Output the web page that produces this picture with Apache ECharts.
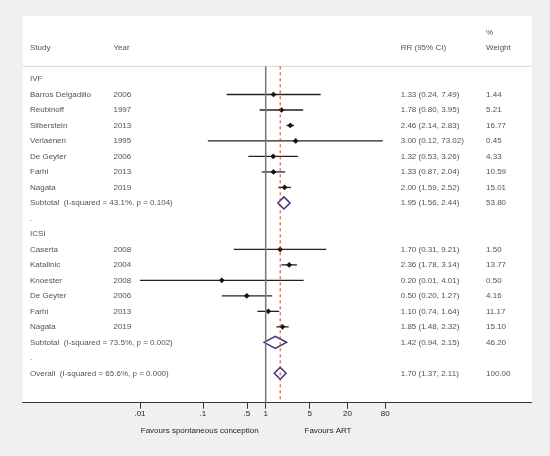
<!DOCTYPE html>
<html>
<head>
<meta charset="utf-8">
<script src="https://cdn.jsdelivr.net/npm/echarts@6/dist/echarts.min.js"></script>
<style>
html,body{margin:0;padding:0;background:#eef0f1;}
#c{width:550px;height:456px;}
</style>
</head>
<body>
<div id="c"></div>
<script>
// ---- Data ----
const ivfStudies = ['Barros Delgadillo','Reubinoff','Silberstein','Verlaenen','De Geyter','Farhi','Nagata'];
const ivfYears   = ['2006','1997','2013','1995','2006','2013','2019'];
const ivfRR      = [1.33, 1.78, 2.46, 3.00, 1.32, 1.33, 2.00];
const ivfLow     = [0.24, 0.80, 2.14, 0.12, 0.53, 0.87, 1.59];
const ivfHigh    = [7.49, 3.95, 2.83, 73.02, 3.26, 2.04, 2.52];
const ivfWeight  = [1.44, 5.21, 16.77, 0.45, 4.33, 10.59, 15.01];

const icsiStudies = ['Caserta','Katalinic','Knoester','De Geyter','Farhi','Nagata'];
const icsiYears   = ['2008','2004','2008','2006','2013','2019'];
const icsiRR      = [1.70, 2.36, 0.20, 0.50, 1.10, 1.85];
const icsiLow     = [0.31, 1.78, 0.01, 0.20, 0.74, 1.48];
const icsiHigh    = [9.21, 3.14, 4.01, 1.27, 1.64, 2.32];
const icsiWeight  = [1.50, 13.77, 0.50, 4.16, 11.17, 15.10];

const summaryLabels = ['Subtotal  (I-squared = 43.1%, p = 0.104)','Subtotal  (I-squared = 73.5%, p = 0.002)','Overall  (I-squared = 65.6%, p = 0.000)'];
const summaryRR     = [1.95, 1.42, 1.70];
const summaryLow    = [1.56, 0.94, 1.37];
const summaryHigh   = [2.44, 2.15, 2.11];
const summaryWeight = [53.80, 46.20, 100.00];

const groupNames = ['IVF','ICSI'];
const tickValues = [0.01, 0.1, 0.5, 1, 5, 20, 80];
const tickLabels = ['.01', '.1', '.5', '1', '5', '20', '80'];
const favourLabels = ['Favours spontaneous conception', 'Favours ART'];

// ---- Layout constants (axis units) ----
const L = Math.log10;
const X_MIN = -3.866, X_MAX = 4.232;
const Y_MIN = -4.087, Y_MAX = 20.898;
const SEP_ROW = -0.82;
const COL_STUDY = -3.75, COL_YEAR = -2.422, COL_RR = 2.148, COL_WT = 3.505;

// ---- Build rows ----
const texts = [];
const studyPts = [];
const diamonds = [];
function addText(x, row, t){ texts.push({value:[x,row], t:t}); }
function ci(rr, lo, hi){ return rr.toFixed(2)+' ('+lo.toFixed(2)+', '+hi.toFixed(2)+')'; }

addText(COL_WT, -3, '%');
addText(COL_STUDY, -2, 'Study');
addText(COL_YEAR, -2, 'Year');
addText(COL_RR, -2, 'RR (95% CI)');
addText(COL_WT, -2, 'Weight');

let row = 0;
const groups = [
  [ivfStudies, ivfYears, ivfRR, ivfLow, ivfHigh, ivfWeight],
  [icsiStudies, icsiYears, icsiRR, icsiLow, icsiHigh, icsiWeight]
];
groups.forEach((g, gi) => {
  addText(COL_STUDY, row, groupNames[gi]); row++;
  g[0].forEach((name, i) => {
    addText(COL_STUDY, row, name);
    addText(COL_YEAR, row, g[1][i]);
    addText(COL_RR, row, ci(g[2][i], g[3][i], g[4][i]));
    addText(COL_WT, row, g[5][i].toFixed(2));
    studyPts.push([L(g[2][i]), row, L(g[3][i]), L(g[4][i])]);
    row++;
  });
  addText(COL_STUDY, row, summaryLabels[gi]);
  addText(COL_RR, row, ci(summaryRR[gi], summaryLow[gi], summaryHigh[gi]));
  addText(COL_WT, row, summaryWeight[gi].toFixed(2));
  diamonds.push([L(summaryRR[gi]), row, L(summaryLow[gi]), L(summaryHigh[gi])]);
  row++;
  addText(COL_STUDY, row, '.'); row++;
});
addText(COL_STUDY, row, summaryLabels[2]);
addText(COL_RR, row, ci(summaryRR[2], summaryLow[2], summaryHigh[2]));
addText(COL_WT, row, summaryWeight[2].toFixed(2));
diamonds.push([L(summaryRR[2]), row, L(summaryLow[2]), L(summaryHigh[2])]);

const FONT = "'Liberation Sans', Arial, Helvetica, sans-serif";
const TXT = '#1e1e1e';

const chart = echarts.init(document.getElementById('c'), null, {renderer:'canvas'});
chart.setOption({
  animation: false,
  backgroundColor: '#eef0f1',
  grid: {left: 22.7, right: 18.3, top: 15.7, bottom: 53.3, show: true, backgroundColor: '#ffffff', borderWidth: 0},
  xAxis: {
    type: 'value', min: X_MIN, max: X_MAX,
    splitLine: {show:false},
    axisLine: {show:true, onZero:false, lineStyle:{color:'#333', width:1}},
    axisTick: {show:true, length:6, lineStyle:{color:'#333', width:1}, customValues: tickValues.map(L)},
    axisLabel: {
      show:true, margin:7, color:TXT, fontSize:8, fontFamily:FONT,
      customValues: tickValues.map(L),
      formatter: v => { const i = tickValues.findIndex(t => Math.abs(L(t)-v) < 1e-6); return i >= 0 ? tickLabels[i] : ''; }
    }
  },
  yAxis: {type:'value', min:Y_MIN, max:Y_MAX, inverse:true, show:false},
  series: [
    {type:'line', data:[[X_MIN, SEP_ROW],[X_MAX, SEP_ROW]], symbol:'none', lineStyle:{color:'#dcd3d3', width:1}, silent:true},
    {type:'line', data:[[0, SEP_ROW],[0, Y_MAX]], symbol:'none', lineStyle:{color:'#777777', width:1.5}, silent:true},
    {type:'line', data:[[L(summaryRR[2]), SEP_ROW],[L(summaryRR[2]), Y_MAX]], symbol:'none', lineStyle:{color:'#c8342c', width:1, type:[3,3]}, silent:true},
    {
      type:'custom', data: studyPts, encode:{x:[0,2,3], y:1}, clip:false,
      renderItem: (params, api) => {
        const c = api.coord([api.value(0), api.value(1)]);
        const lo = api.coord([api.value(2), api.value(1)]);
        const hi = api.coord([api.value(3), api.value(1)]);
        return {type:'group', children:[
          {type:'line', shape:{x1:lo[0], y1:lo[1], x2:hi[0], y2:hi[1]}, style:{stroke:'#222', lineWidth:1.3}},
          {type:'polygon', shape:{points:[[c[0]-2.6,c[1]],[c[0],c[1]-2.6],[c[0]+2.6,c[1]],[c[0],c[1]+2.6]]}, style:{fill:'#111', stroke:'#111', lineWidth:0.5}}
        ]};
      }
    },
    {
      type:'custom', data: diamonds, encode:{x:[0,2,3], y:1}, clip:false,
      renderItem: (params, api) => {
        const c = api.coord([api.value(0), api.value(1)]);
        const lo = api.coord([api.value(2), api.value(1)]);
        const hi = api.coord([api.value(3), api.value(1)]);
        return {type:'polygon', shape:{points:[[lo[0],c[1]],[c[0],c[1]-6],[hi[0],c[1]],[c[0],c[1]+6]]}, style:{fill:'none', stroke:'#36318a', lineWidth:1.5}};
      }
    },
    {
      type:'scatter', symbolSize:0, silent:true,
      data: texts.map(d => ({value:d.value, t:d.t})),
      label: {show:true, position:'right', distance:0, color:TXT, fontSize:8, fontFamily:FONT,
        formatter: p => p.data.t}
    }
  ],
  graphic: [
    {type:'text', style:{text:favourLabels[0], x:199.7, y:430.7, align:'center', verticalAlign:'middle', fill:TXT, fontSize:8, fontFamily:FONT}},
    {type:'text', style:{text:favourLabels[1], x:328, y:430.7, align:'center', verticalAlign:'middle', fill:TXT, fontSize:8, fontFamily:FONT}}
  ]
});
</script>
</body>
</html>
